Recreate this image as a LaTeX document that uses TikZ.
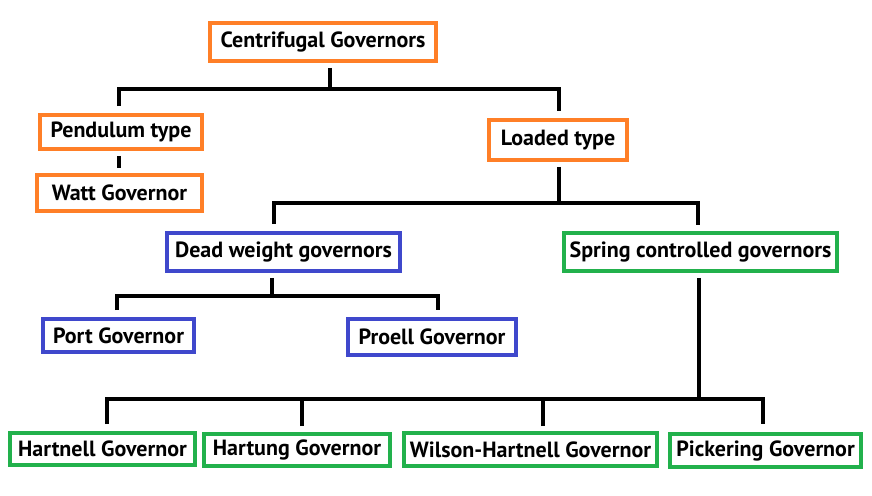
\documentclass[tikz,border=0pt]{standalone}
\usepackage{fontspec}
\setmainfont{PT Sans}
\usetikzlibrary{calc}
\definecolor{orng}{HTML}{FF7F27}
\definecolor{blu}{HTML}{3F48CC}
\definecolor{grn}{HTML}{22B14C}
\tikzset{
  bx/.style={draw, line width=3.3pt, fill=white, inner sep=0pt, font=\bfseries\fontsize{16.5}{18}\selectfont, text=black},
  sz/.style 2 args={minimum width={(#1-4.5)*0.75pt}, minimum height={(#2-4.5)*0.75pt}},
  ob/.style={bx, draw=orng},
  bb/.style={bx, draw=blu},
  gb/.style={bx, draw=grn},
  conn/.style={draw=black, line width=3pt, line join=miter, line cap=butt}
}
\begin{document}
\begin{tikzpicture}[x=0.75pt, y=-0.75pt]
\useasboundingbox[fill=white] (0,0) rectangle (872,496);
% nodes
\node[ob, sz={230}{42}] (cg) at (323,42) {Centrifugal Governors};
\node[ob, sz={166}{38}] (pen) at (121,132) {Pendulum type};
\node[ob, sz={169}{40}] (watt) at (119.5,193) {Watt Governor};
\node[ob, sz={142}{44}] (load) at (558,140) {Loaded type};
\node[bb, sz={237}{42}] (dead) at (283.5,252) {Dead weight governors};
\node[gb, sz={277}{42}] (spring) at (700.5,252) {Spring controlled governors};
\node[bb, sz={155}{37}] (port) at (118.5,335.5) {Port Governor};
\node[bb, sz={172}{40}] (proell) at (432,337) {Proell Governor};
\node[gb, sz={189}{36}] (hartnell) at (102.5,449) {Hartnell Governor};
\node[gb, sz={190}{36}] (hartung) at (297,450) {Hartung Governor};
\node[gb, sz={257}{37}] (wilson) at (530.5,449.5) {Wilson-Hartnell Governor};
\node[gb, sz={195}{37}] (pick) at (765.5,450.5) {Pickering Governor};
% junctions
\coordinate (j1) at (330,89);
\coordinate (j2) at (559,203);
\coordinate (j3) at (272,296);
\coordinate (j4) at (699,399);
\coordinate (hu) at ($(hartung.north)+(5,-6)$);
\coordinate (wu) at ($(wilson.north)+(12.5,-5)$);
% connectors
\draw[conn] ($(cg.south)+(7,5)$) -- (j1);
\draw[conn] ($(pen.north)+(-2,-7)$) |- (j1) -| ($(load.north)+(1,-7)$);
\draw[conn] ($(pen.south)+(-2,5)$) -- ($(watt.north)+(-0.5,-5)$);
\draw[conn] ($(load.south)+(1,5)$) -- (j2);
\draw[conn] ($(dead.north)+(-9.5,-7)$) |- (j2) -| ($(spring.north)+(-2.5,-6)$);
\draw[conn] ($(dead.south)+(-11.5,5)$) -- (j3);
\draw[conn] ($(port.north)+(-1.5,-7)$) |- (j3) -| ($(proell.north)+(6,-7)$);
\draw[conn] ($(spring.south)+(-1.5,5)$) -- (j4);
\draw[conn] ($(hartnell.north)+(4.5,-7)$) |- (j4) -| ($(pick.north)+(-2.5,-8)$);
\draw[conn] (hu) -- (hu |- j4);
\draw[conn] (wu) -- (wu |- j4);
\end{tikzpicture}
\end{document}
